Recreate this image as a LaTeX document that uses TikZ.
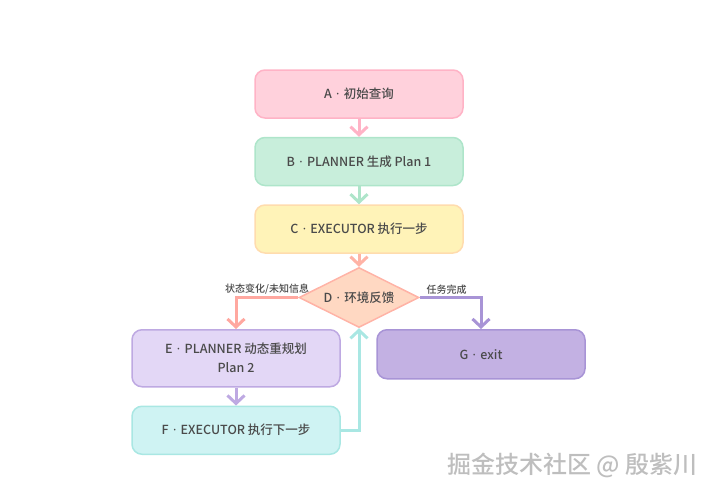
\documentclass[tikz,border=0pt]{standalone}
\usepackage{fontspec}
\setmainfont{Noto Sans CJK SC Medium}
\newfontfamily\latinfont{Noto Sans}
\usepackage{tikz}
\usetikzlibrary{
	positioning,
	arrows.meta,
	shapes.geometric
}
\newcommand{\midsep}{\hspace{0.35em}{\latinfont ·}\hspace{0.35em}}
\definecolor{txtGray}{HTML}{4A4A4A}
\definecolor{aFill}{HTML}{FFD1DC}
\definecolor{aLine}{HTML}{FFB3C6}
\definecolor{bFill}{HTML}{C8EEDB}
\definecolor{bLine}{HTML}{AEE5CA}
\definecolor{cFill}{HTML}{FFF3B8}
\definecolor{cLine}{HTML}{FFDCAE}
\definecolor{dFill}{HTML}{FFD8C2}
\definecolor{dLine}{HTML}{FFB3A6}
\definecolor{eFill}{HTML}{E3D7F6}
\definecolor{eLine}{HTML}{BEA9E2}
\definecolor{fFill}{HTML}{CFF3F3}
\definecolor{fLine}{HTML}{A9E7E3}
\definecolor{gFill}{HTML}{C3B1E3}
\definecolor{gLine}{HTML}{A894D6}
\definecolor{wmGray}{HTML}{BEBEBE}
\pgfdeclarelayer{edgelayer}
\pgfsetlayers{edgelayer,main}
\tikzset{
	stepbox/.style={
		rectangle,
		rounded corners=10pt,
		line width=1.5pt,
		minimum width=208pt,
		minimum height=48pt,
		align=center,
		text=txtGray
	},
	choice/.style={
		diamond,
		aspect=2,
		line width=1.5pt,
		minimum width=120pt,
		minimum height=60pt,
		inner sep=1pt,
		text=txtGray
	},
	flow/.style={
		line width=3pt,
		-{Straight Barb[length=8pt,width=17pt]}
	},
	lbl/.style={
		font=\fontsize{10}{12}\selectfont,
		text=txtGray,
		inner sep=2pt
	}
}

\begin{document}
\begin{tikzpicture}[x=1pt,y=-1pt,node distance=18pt,font=\fontsize{12.5}{19}\selectfont]
	\useasboundingbox (0,0) rectangle (718,496);
	\node[stepbox,fill=aFill,draw=aLine]              (A) at (359,94) {A\midsep 初始查询};
	\node[stepbox,fill=bFill,draw=bLine,below=of A]   (B) {B\midsep PLANNER 生成 Plan 1};
	\node[stepbox,fill=cFill,draw=cLine,below=of B]   (C) {C\midsep EXECUTOR 执行一步};
	\node[choice,fill=dFill,draw=dLine,below=13pt of C] (D) {D\midsep 环境反馈};
	\node[stepbox,fill=eFill,draw=eLine,minimum height=57pt,anchor=north] (E) at (236,329) {E\midsep PLANNER 动态重规划\\Plan 2};
	\node[stepbox,fill=fFill,draw=fLine,below=of E]   (F) {F\midsep EXECUTOR 执行下一步};
	\node[stepbox,fill=gFill,draw=gLine,minimum height=49pt,anchor=north] (G) at (481,329) {G\midsep exit};

	% connectors sit under the nodes
	\begin{pgfonlayer}{edgelayer}
		\draw[flow,aLine]           (A) -- (B);
		\draw[flow,bLine]           (B) -- (C);
		\draw[flow,dLine]           (C) -- (D);
		\draw[flow,color={rgb,255:red,255;green,168;blue,160}]
			(D.west) -| node[lbl,above,pos=0.25] {状态变化/未知信息} (E.north);
		\draw[flow,gLine]
			(D.east) -| node[lbl,above,pos=0.22] {任务完成} (G.north);
		\draw[flow,eLine]           (E) -- (F);
		\draw[flow,fLine]           (F.east) -| (D.south);
	\end{pgfonlayer}

	\node[font=\fontsize{24}{28}\selectfont,text=wmGray,anchor=east] (mark) at (701,465) {掘金技术社区 @ 殷紫川};
\end{tikzpicture}
\end{document}
